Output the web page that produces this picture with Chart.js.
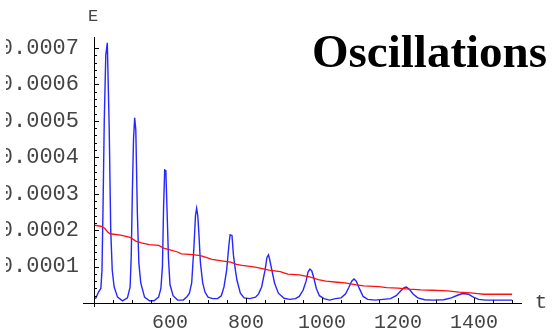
<!DOCTYPE html>
<html>
<head>
<meta charset="utf-8">
<script src="https://cdn.jsdelivr.net/npm/chart.js@4.4.1/dist/chart.umd.min.js"></script>
<style>
  html,body{margin:0;padding:0;background:#fff;}
  #wrap{position:absolute;left:0;top:0;width:554px;height:334px;overflow:hidden;background:#fff;}
  #clip{position:absolute;left:6px;top:0;width:548px;height:334px;overflow:hidden;}
  #plot{position:absolute;left:-6px;top:0;}
</style>
</head>
<body>
<div id="wrap"><div id="clip"><canvas id="plot" width="554" height="334"></canvas></div></div>
<script>
// oscillating energy E(t)
const blueT = [400,405,412,418,421,424,427,431,435,440,444,448,453,462,475,488,495,498,501,504,507,510,514,518,523,533,546,558,570,576,580,583,586,589,592,596,600,608,620,635,645,651,657,663,667,670,673,676,680,686,692,700,712,725,735,742,749,755,758,763,767,772,776,785,795,810,825,833,841,850,855,859,862,866,875,885,900,915,930,940,950,958,963,968,973,978,985,993,1005,1020,1035,1050,1062,1070,1078,1084,1090,1098,1108,1120,1140,1160,1180,1195,1208,1216,1222,1230,1240,1252,1270,1290,1320,1340,1358,1370,1385,1398,1412,1430,1460,1500];
const blueE = [.000012,.000014,.00003,.00004,.00009,.00028,.0005,.00068,.000714,.00048,.0002,.00009,.000044,.000016,.000006,.000014,.000044,.00013,.00031,.00045,.000508,.000475,.00025,.00011,.000055,.000016,.000006,.000006,.000016,.00004,.0001,.00026,.000365,.000363,.00026,.00012,.00005,.00002,.000008,.000008,.000018,.000027,.000055,.000155,.00024,.00026,.00024,.00019,.00011,.000055,.00003,.000016,.000012,.000012,.00002,.000044,.00009,.00016,.000187,.000185,.00013,.00009,.000063,.000027,.000014,.000012,.000016,.000025,.000044,.00009,.000125,.000132,.00012,.0001,.000055,.000027,.000013,.00001,.000012,.000018,.000035,.00006,.000085,.000093,.000088,.00007,.00004,.00002,.000012,.000008,.000012,.000014,.000025,.000042,.00006,.000066,.00006,.00004,.000018,.00001,.000008,.00001,.000012,.00002,.000034,.000042,.000044,.000037,.000024,.000014,.000009,.000008,.000009,.000014,.000022,.000026,.000024,.000016,.00001,.000008,.000008,.000008];

// slowly decaying curve
const redT = [400,410,420,428,436,442,470,495,510,525,545,570,585,600,620,630,660,680,695,710,740,760,775,790,820,840,860,890,910,940,970,990,1010,1040,1060,1090,1110,1150,1170,1200,1230,1260,1290,1330,1360,1390,1410,1425,1500];
const redE = [.000214,.000212,.00021,.000205,.000195,.00019,.000186,.00018,.00017,.000165,.00016,.000158,.00015,.000146,.00014,.000135,.000133,.00013,.000125,.00012,.000115,.000112,.000106,.000103,.000099,.000095,.00009,.000086,.000079,.000077,.000071,.000064,.00006,.000057,.000055,.00005,.000047,.000045,.000042,.000041,.000038,.000036,.000035,.000033,.00003,.000028,.000026,.000024,.000024];

const xTicks = [600, 800, 1000, 1200, 1400];
const yTicks = [0.0001, 0.0002, 0.0003, 0.0004, 0.0005, 0.0006, 0.0007];
const xMin = 400, xMax = 1526, yMin = 0, yMax = 0.00073;
const xMinorStep = 50, yMinorStep = 0.00002;

const toPts = (xs, ys) => xs.map((x, i) => ({x, y: ys[i]}));
const mono = "'Liberation Mono', 'DejaVu Sans Mono', monospace";

// Mathematica-style axes: inward ticks, axis names, big title
const axesPlugin = {
  id: 'axes',
  afterDraw(chart) {
    const {ctx, scales: {x, y}} = chart;
    const x0 = x.getPixelForValue(xMin), y0 = y.getPixelForValue(0);
    ctx.save();
    ctx.strokeStyle = '#000'; ctx.lineWidth = 1;
    ctx.beginPath();
    ctx.moveTo(83, y0 + 0.5); ctx.lineTo(x.getPixelForValue(xMax), y0 + 0.5);
    ctx.moveTo(x0 + 0.5, y.getPixelForValue(yMax)); ctx.lineTo(x0 + 0.5, y0 + 4);
    for (let i = 0; i * yMinorStep <= 0.000705; i++) {
      const py = Math.round(y.getPixelForValue(i * yMinorStep)) + 0.5;
      ctx.moveTo(x0, py); ctx.lineTo(x0 + (i % 5 === 0 ? 5 : 3), py);
    }
    for (let v = xMin; v <= 1500; v += xMinorStep) {
      const px = Math.round(x.getPixelForValue(v)) + 0.5;
      ctx.moveTo(px, y0); ctx.lineTo(px, y0 - (v % 200 === 0 ? 5 : 3));
    }
    ctx.stroke();
    ctx.fillStyle = '#444';
    ctx.font = "17px " + mono;
    ctx.textAlign = 'center'; ctx.textBaseline = 'alphabetic';
    ctx.fillText('E', 93, 21);
    ctx.font = "21px " + mono;
    ctx.fillText('t', 541, 308);
    ctx.fillStyle = '#000';
    ctx.font = "bold 47px 'Liberation Serif', 'Times New Roman', serif";
    ctx.textAlign = 'left';
    ctx.fillText('Oscillations', 312, 67);
    ctx.restore();
  }
};

new Chart(document.getElementById('plot'), {
  type: 'line',
  data: {
    datasets: [
      {data: toPts(redT, redE), borderColor: '#ff1010', borderWidth: 1.3, pointRadius: 0, tension: 0},
      {data: toPts(blueT, blueE), borderColor: '#2626ff', borderWidth: 1.4, pointRadius: 0, tension: 0}
    ]
  },
  options: {
    responsive: false, animation: false, devicePixelRatio: 1,
    layout: {padding: {top: 37, right: 32, left: 0, bottom: 0}},
    plugins: {legend: {display: false}, tooltip: {enabled: false}},
    scales: {
      x: {
        type: 'linear', min: xMin, max: xMax,
        grid: {display: false}, border: {display: false},
        afterBuildTicks: s => { s.ticks = xTicks.map(value => ({value})); },
        afterFit: s => { s.height = 31; },
        ticks: {
          autoSkip: false, maxRotation: 0, padding: 0,
          color: '#444', font: {family: mono, size: 20},
          callback: v => String(v)
        }
      },
      y: {
        type: 'linear', min: yMin, max: yMax,
        grid: {display: false}, border: {display: false},
        afterBuildTicks: s => { s.ticks = yTicks.map(value => ({value})); },
        afterFit: s => { s.width = 94; },
        ticks: {
          autoSkip: false, padding: 7,
          color: '#444', font: {family: mono, size: 22},
          callback: v => v.toFixed(4)
        }
      }
    }
  },
  plugins: [axesPlugin]
});
</script>
</body>
</html>
